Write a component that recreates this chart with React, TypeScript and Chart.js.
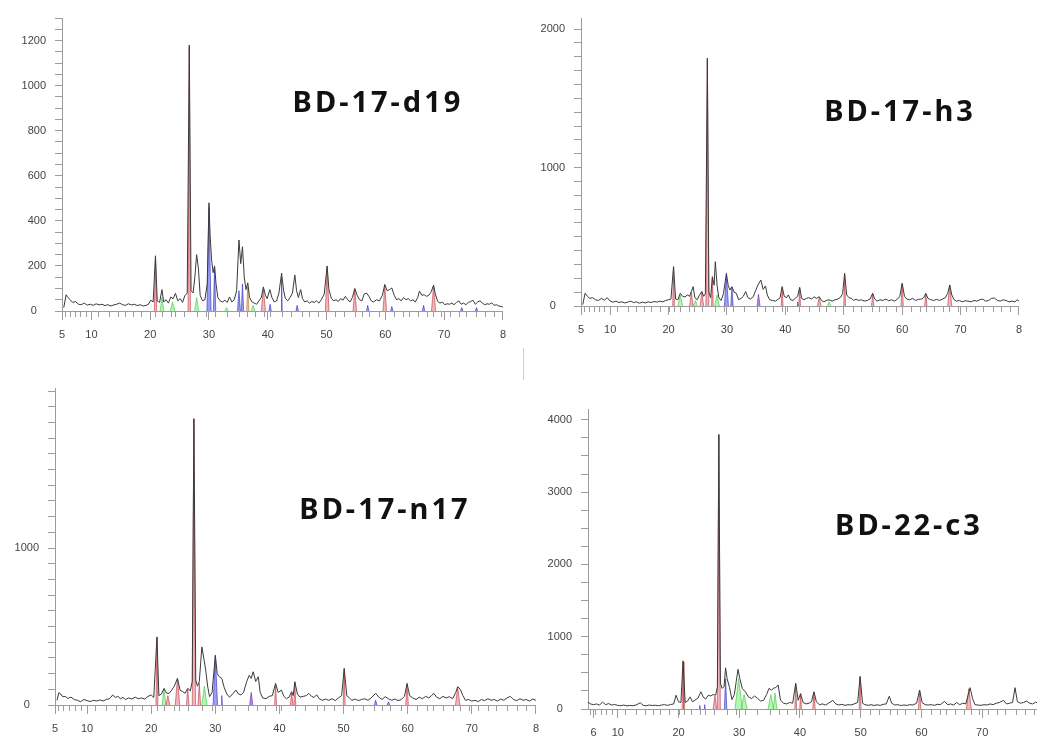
import React, { useEffect, useRef } from "react";
import { Chart, registerables } from "chart.js";

Chart.register(...registerables);

type Pt = [number, number];
type Peak = [number, number, number];

// ---------- BD-17-d19 ----------
const d19Trace: Pt[] = [
  [5.3,15],[5.7,72],[6.0,60],[6.4,50],[6.8,38],[7.3,42],[7.8,30],[8.3,28],[8.8,35],[9.3,26],[9.8,30],[10.3,25],[10.8,32],[11.3,27],[11.8,30],[12.3,24],[12.8,28],[13.3,22],[13.8,27],[14.3,30],[14.8,35],[15.3,28],[15.8,25],[16.3,32],[16.8,27],[17.3,30],[17.8,24],[18.3,28],[18.8,22],[19.3,25],[19.7,30],[20.1,48],[20.5,40],[20.9,245],[21.2,45],[21.6,38],[22.0,95],[22.3,40],[22.7,50],[23.1,35],[23.5,62],[23.9,55],[24.3,78],[24.7,45],[25.1,55],[25.5,38],[25.9,68],[26.3,80],[26.65,1180],[26.95,90],[27.3,80],[27.6,150],[27.9,250],[28.2,190],[28.5,70],[28.9,45],[29.3,50],[29.7,120],[30.0,480],[30.2,330],[30.45,225],[30.7,170],[30.95,200],[31.2,120],[31.5,60],[31.9,45],[32.3,40],[32.7,48],[33.1,38],[33.5,62],[33.9,40],[34.3,50],[34.7,90],[35.1,315],[35.4,210],[35.7,285],[36.0,150],[36.3,95],[36.6,125],[36.9,60],[37.3,40],[37.7,35],[38.1,30],[38.5,45],[38.9,60],[39.25,107],[39.6,70],[39.9,55],[40.35,95],[40.7,60],[41.1,40],[41.5,45],[41.9,80],[42.35,168],[42.7,90],[43.0,55],[43.4,45],[43.8,60],[44.2,80],[44.6,160],[44.9,90],[45.2,60],[45.6,95],[45.9,55],[46.3,40],[46.7,45],[47.1,35],[47.5,42],[47.9,38],[48.3,45],[48.7,35],[49.1,50],[49.6,75],[50.1,200],[50.4,95],[50.8,57],[51.2,45],[51.6,50],[52.0,42],[52.4,55],[52.8,48],[53.2,65],[53.6,50],[54.0,40],[54.4,60],[54.8,100],[55.2,70],[55.6,50],[56.0,45],[56.4,75],[56.8,80],[57.2,65],[57.6,45],[58.0,40],[58.5,50],[59.0,45],[59.5,70],[59.9,118],[60.3,90],[60.7,95],[61.1,102],[61.5,70],[61.9,50],[62.3,55],[62.7,45],[63.1,60],[63.5,50],[63.9,55],[64.3,45],[64.7,50],[65.1,40],[65.5,60],[65.8,88],[66.2,70],[66.6,72],[67.0,65],[67.4,70],[67.8,85],[68.2,115],[68.5,75],[68.9,42],[69.3,35],[69.7,40],[70.1,28],[70.5,32],[70.9,30],[71.3,35],[71.7,28],[72.1,38],[72.5,45],[72.9,30],[73.3,35],[73.7,28],[74.1,38],[74.5,42],[74.9,48],[75.3,30],[75.7,40],[76.1,45],[76.5,35],[76.9,28],[77.3,32],[77.7,30],[78.1,36],[78.5,25],[78.9,28],[79.3,22],[79.7,20],[80,18]
];
const d19Red: Peak[] = [[20.9,240,0.2],[26.65,1170,0.2],[39.25,100,0.35],[50.1,195,0.3],[54.8,95,0.3],[59.9,110,0.3],[68.2,110,0.35]];
const d19Blue: Peak[] = [[30.0,460,0.35],[30.95,190,0.2],[35.1,90,0.25],[35.7,120,0.2],[40.4,30,0.2],[42.35,150,0.1],[45.0,25,0.2],[57.0,25,0.2],[61.1,20,0.2],[66.5,25,0.2],[73,15,0.2],[75.5,15,0.2]];
const d19Green: Peak[] = [[22.0,60,0.3],[23.8,40,0.4],[27.9,60,0.35],[33,15,0.3],[37.5,25,0.3]];
const d19Orange: Peak[] = [[36.6,110,0.2]];

// ---------- BD-17-h3 ----------
const h3Trace: Pt[] = [
  [5.3,10],[5.7,92],[6.1,70],[6.5,55],[7.0,60],[7.5,45],[8.0,40],[8.5,55],[9.0,42],[9.5,60],[10.0,35],[10.5,28],[11.0,35],[11.5,25],[12.0,30],[12.5,22],[13.0,28],[13.5,35],[14.0,25],[14.5,30],[15.0,20],[15.5,28],[16.0,22],[16.5,30],[17.0,25],[17.5,32],[18.0,28],[18.5,35],[19.0,30],[19.5,40],[20.0,45],[20.4,50],[20.85,285],[21.2,50],[21.6,45],[22.0,92],[22.4,70],[22.8,65],[23.2,80],[23.6,70],[23.9,105],[24.2,140],[24.5,60],[24.9,45],[25.3,80],[25.7,105],[26.0,70],[26.3,90],[26.64,1790],[26.9,100],[27.2,60],[27.5,212],[27.8,150],[28.0,320],[28.3,150],[28.6,60],[29.0,40],[29.4,90],[29.9,236],[30.2,150],[30.5,115],[30.85,140],[31.2,100],[31.6,92],[32.0,45],[32.4,55],[32.8,70],[33.2,104],[33.6,60],[34.0,50],[34.5,67],[34.9,110],[35.3,152],[35.8,188],[36.2,120],[36.6,145],[36.9,80],[37.3,45],[37.8,40],[38.3,35],[38.8,50],[39.1,60],[39.45,140],[39.8,70],[40.2,60],[40.5,80],[40.9,45],[41.3,40],[41.8,60],[42.1,70],[42.45,135],[42.8,55],[43.2,45],[43.6,55],[44.0,60],[44.5,50],[44.9,67],[45.3,55],[45.8,67],[46.2,40],[46.6,30],[47.0,40],[47.5,45],[48.0,35],[48.5,45],[49.0,50],[49.5,65],[49.8,90],[50.15,236],[50.5,80],[50.9,60],[51.3,55],[51.7,40],[52.1,50],[52.5,40],[53.0,45],[53.5,35],[54.0,40],[54.5,50],[54.95,92],[55.3,50],[55.7,35],[56.2,45],[56.7,40],[57.2,50],[57.7,38],[58.2,45],[58.7,35],[59.2,50],[59.6,70],[60.0,164],[60.4,70],[60.8,50],[61.3,45],[61.8,55],[62.3,40],[62.8,48],[63.3,50],[63.7,60],[64.05,92],[64.4,55],[64.9,45],[65.4,40],[65.9,48],[66.4,40],[66.9,50],[67.4,60],[67.8,90],[68.15,152],[68.5,80],[68.9,45],[69.3,35],[69.8,40],[70.3,30],[70.8,38],[71.3,35],[71.8,30],[72.3,40],[72.8,35],[73.3,45],[73.8,50],[74.3,35],[74.8,40],[75.3,55],[75.8,58],[76.3,40],[76.8,35],[77.3,45],[77.8,40],[78.3,30],[78.8,35],[79.3,30],[79.7,45],[80,35]
];
const h3Red: Peak[] = [[20.85,280,0.15],[23.9,100,0.3],[25.7,100,0.3],[26.64,1780,0.25],[27.5,210,0.15],[39.45,135,0.15],[42.45,130,0.15],[45.8,60,0.3],[50.15,230,0.15],[54.95,85,0.2],[60.0,160,0.2],[64.05,85,0.2],[68.15,150,0.35]];
const h3Blue: Peak[] = [[29.9,220,0.35],[30.85,130,0.2],[42.1,30,0.1]];
const h3Green: Peak[] = [[22.0,80,0.4],[24.6,40,0.3],[28.3,80,0.4],[47.5,30,0.3]];
const h3Purple: Peak[] = [[35.4,85,0.25]];

// ---------- BD-17-n17 ----------
const n17Trace: Pt[] = [
  [5.3,30],[5.6,78],[5.9,70],[6.2,53],[6.6,55],[7.0,42],[7.5,50],[8.0,35],[8.5,30],[9.0,21],[9.5,35],[10.0,28],[10.5,22],[11.0,30],[11.5,25],[12.0,32],[12.5,26],[13.0,35],[13.5,40],[14.0,64],[14.4,48],[14.8,55],[15.2,40],[15.6,48],[16.0,35],[16.5,45],[17.0,38],[17.5,50],[18.0,40],[18.5,45],[19.0,38],[19.5,55],[20.0,64],[20.4,48],[20.9,434],[21.2,60],[21.6,70],[22.0,106],[22.4,75],[22.8,74],[23.2,95],[23.6,120],[24.1,170],[24.5,95],[24.9,85],[25.3,75],[25.7,106],[26.1,90],[26.4,150],[26.66,1825],[26.95,160],[27.2,120],[27.5,148],[27.9,370],[28.2,300],[28.5,222],[28.8,120],[29.1,53],[29.5,80],[30.0,318],[30.3,200],[30.6,180],[31.0,170],[31.4,110],[31.8,70],[32.2,50],[32.6,65],[33.2,95],[33.6,70],[34.0,64],[34.4,80],[34.9,150],[35.3,190],[35.6,170],[35.9,212],[36.3,150],[36.7,180],[37.0,80],[37.4,45],[37.9,40],[38.4,55],[38.9,60],[39.4,138],[39.8,80],[40.3,95],[40.7,55],[41.1,40],[41.5,50],[41.9,85],[42.15,60],[42.4,148],[42.8,70],[43.2,50],[43.7,55],[44.2,60],[44.6,74],[45.0,55],[45.4,48],[45.8,65],[46.2,40],[46.7,30],[47.2,38],[47.7,30],[48.2,40],[48.7,28],[49.2,45],[49.7,60],[50.1,233],[50.5,60],[50.9,45],[51.3,30],[51.8,38],[52.3,28],[52.8,35],[53.3,40],[53.8,30],[54.3,45],[55.0,74],[55.5,50],[56.0,35],[56.5,53],[57.0,40],[57.5,30],[58.0,38],[58.5,28],[59.0,35],[59.5,55],[59.9,138],[60.3,60],[60.8,45],[61.3,35],[61.8,50],[62.3,40],[62.8,55],[63.3,45],[63.7,60],[64.1,74],[64.5,50],[65.0,40],[65.5,55],[66.0,45],[66.5,53],[67.0,40],[67.5,80],[67.8,117],[68.2,100],[68.6,60],[69.0,30],[69.5,35],[70.0,25],[70.5,30],[71.0,22],[71.5,35],[72.0,28],[72.5,40],[73.0,30],[73.5,35],[74.0,25],[74.5,38],[75.0,30],[75.5,45],[76.0,55],[76.5,35],[77.0,28],[77.5,40],[78.0,30],[78.5,35],[79.0,25],[79.5,38],[80,30]
];
const n17Red: Peak[] = [[20.9,430,0.15],[22.6,60,0.3],[24.1,165,0.35],[25.7,100,0.2],[26.66,1820,0.25],[27.5,140,0.2],[39.4,130,0.15],[41.9,80,0.2],[42.4,145,0.15],[50.1,230,0.15],[59.9,130,0.2],[67.8,110,0.35]];
const n17Blue: Peak[] = [[30.0,310,0.35],[31.0,60,0.1],[55,30,0.2],[57,20,0.2]];
const n17Green: Peak[] = [[22.0,100,0.3],[28.3,120,0.4]];
const n17Purple: Peak[] = [[35.6,80,0.25]];

// ---------- BD-22-c3 ----------
const c3Trace: Pt[] = [
  [5.1,95],[5.5,71],[6.0,60],[6.5,70],[7.0,55],[7.5,95],[8.0,60],[8.5,75],[9.0,55],[9.5,62],[10.0,50],[10.5,45],[11.0,55],[11.5,42],[12.0,50],[12.5,45],[13.0,55],[13.7,86],[14.2,50],[14.7,45],[15.2,55],[15.7,48],[16.2,52],[16.7,45],[17.2,55],[17.7,60],[18.2,50],[18.7,62],[19.2,70],[19.6,190],[20.0,100],[20.4,90],[20.75,667],[21.1,90],[21.5,110],[21.9,167],[22.3,100],[22.7,120],[23.2,150],[23.7,238],[24.1,160],[24.5,140],[24.9,190],[25.3,180],[25.7,200],[26.1,190],[26.4,300],[26.64,3800],[26.9,350],[27.2,285],[27.5,310],[27.75,570],[28.0,420],[28.4,300],[28.8,130],[29.2,200],[29.5,380],[29.8,548],[30.1,420],[30.5,285],[31.0,238],[31.5,170],[32.0,143],[32.5,180],[33.0,150],[33.5,110],[34.0,120],[34.5,200],[34.9,285],[35.3,262],[35.7,290],[36.0,295],[36.4,333],[36.8,120],[37.3,80],[37.8,70],[38.3,90],[38.8,80],[39.3,357],[39.7,120],[40.1,214],[40.5,90],[41.0,70],[41.5,80],[41.9,100],[42.3,238],[42.7,100],[43.2,60],[43.7,70],[44.2,55],[44.7,80],[45.4,120],[45.9,70],[46.4,55],[46.9,65],[47.4,50],[47.9,60],[48.4,55],[48.9,70],[49.5,90],[49.9,452],[50.3,80],[50.7,60],[51.2,50],[51.7,60],[52.2,48],[52.7,58],[53.2,50],[53.7,65],[54.2,70],[54.7,176],[55.1,80],[55.6,55],[56.1,60],[56.6,48],[57.1,55],[57.6,50],[58.1,60],[58.6,55],[59.2,80],[59.7,262],[60.1,90],[60.6,60],[61.1,55],[61.6,60],[62.1,50],[62.6,65],[63.1,60],[63.8,105],[64.3,60],[64.8,70],[65.3,55],[65.8,90],[66.3,60],[66.8,80],[67.3,70],[67.7,200],[68.0,295],[68.4,150],[68.8,60],[69.3,55],[69.8,50],[70.3,60],[70.8,55],[71.3,70],[71.8,60],[72.3,80],[72.8,90],[73.5,119],[74.0,70],[74.5,80],[75.0,90],[75.4,295],[75.8,100],[76.3,80],[76.8,90],[77.3,110],[77.8,80],[78.3,70],[78.8,95],[79.3,75],[80,90]
];
const c3Red: Peak[] = [[20.75,650,0.15],[26.0,180,0.3],[26.64,3780,0.25],[39.3,340,0.15],[40.1,200,0.15],[42.3,230,0.2],[49.9,440,0.15],[59.7,250,0.2],[67.8,280,0.4]];
const c3Blue: Peak[] = [[23.5,50,0.1],[24.3,60,0.1],[27.75,420,0.2]];
const c3Green: Peak[] = [[29.9,420,0.6],[30.8,200,0.5],[35.2,200,0.45],[35.9,220,0.3]];

// ---------- axes ----------
const xTickValues = [5, 10, 20, 30, 40, 50, 60, 70, 80];
const xTickValuesC3 = [6, 10, 20, 30, 40, 50, 60, 70, 80];
const stickPositions = [5.5,6.3,7.2,8.1,9,11.2,13,14.5,15.8,17,18.5,20,20.9,22,23.5,24.3,25.8,28,29.5,31,33,35.1,36.5,37.8,39.4,40.3,42.4,44,45.8,47,48.5,51.5,53,54.8,56,57.3,59,61.5,63,64,65.5,67,68.1,69.5,71,72.5,73.8,75.5,77,78.5];

const COLORS = {
  red: ["rgba(228,110,125,0.5)", "rgba(190,60,70,0.8)"],
  blue: ["rgba(80,80,230,0.55)", "rgba(50,50,200,0.8)"],
  green: ["rgba(110,235,110,0.5)", "rgba(70,200,70,0.8)"],
  orange: ["rgba(215,150,70,0.55)", "rgba(190,120,40,0.8)"],
  purple: ["rgba(140,70,210,0.6)", "rgba(110,40,180,0.8)"],
};

type Group = { color: keyof typeof COLORS; peaks: Peak[] };
type Panel = {
  title: string;
  trace: Pt[];
  groups: Group[];
  xMin: number; xMax: number; xTicks: number[];
  yMax: number; yStep: number; yLabelStep: number; yLabelMax: number;
  plot: { left: number; top: number; right: number; bottom: number };
  titlePos: { x: number; y: number };
};

const panels: Panel[] = [
  {
    title: "BD-17-d19", trace: d19Trace,
    groups: [{ color: "red", peaks: d19Red }, { color: "blue", peaks: d19Blue }, { color: "green", peaks: d19Green }, { color: "orange", peaks: d19Orange }],
    xMin: 5, xMax: 80, xTicks: xTickValues, yMax: 1300, yStep: 50, yLabelStep: 200, yLabelMax: 1200,
    plot: { left: 62, top: 18, right: 504, bottom: 311 }, titlePos: { x: 378, y: 100 },
  },
  {
    title: "BD-17-h3", trace: h3Trace,
    groups: [{ color: "red", peaks: h3Red }, { color: "blue", peaks: h3Blue }, { color: "green", peaks: h3Green }, { color: "purple", peaks: h3Purple }],
    xMin: 5, xMax: 80, xTicks: xTickValues, yMax: 2080, yStep: 100, yLabelStep: 1000, yLabelMax: 2000,
    plot: { left: 581, top: 18, right: 1020, bottom: 306 }, titlePos: { x: 900, y: 109 },
  },
  {
    title: "BD-17-n17", trace: n17Trace,
    groups: [{ color: "red", peaks: n17Red }, { color: "blue", peaks: n17Blue }, { color: "green", peaks: n17Green }, { color: "purple", peaks: n17Purple }],
    xMin: 5, xMax: 80, xTicks: xTickValues, yMax: 2020, yStep: 100, yLabelStep: 1000, yLabelMax: 1000,
    plot: { left: 55, top: 388, right: 537, bottom: 705 }, titlePos: { x: 385, y: 507 },
  },
  {
    title: "BD-22-c3", trace: c3Trace,
    groups: [{ color: "red", peaks: c3Red }, { color: "blue", peaks: c3Blue }, { color: "green", peaks: c3Green }],
    xMin: 5.1, xMax: 80, xTicks: xTickValuesC3, yMax: 4150, yStep: 250, yLabelStep: 1000, yLabelMax: 4000,
    plot: { left: 588, top: 409, right: 1044, bottom: 709 }, titlePos: { x: 909, y: 523 },
  },
];

const AXIS_W = 50;
const AXIS_H = 36;
const PAD_T = 4;
const PAD_R = 10;
const AXIS_COLOR = "#9c9c9c";
const LABEL_COLOR = "#444";

const sticksPlugin = {
  id: "sticks",
  afterDraw(chart: any, _args: any, opts: any) {
    const xs = chart.scales.x;
    const y0 = chart.scales.y.getPixelForValue(0);
    const ctx = chart.ctx;
    ctx.save();
    ctx.strokeStyle = opts.color || AXIS_COLOR;
    ctx.lineWidth = 1;
    for (const v of opts.positions || []) {
      if (v < xs.min || v > xs.max) continue;
      const px = Math.round(xs.getPixelForValue(v)) + 0.5;
      ctx.beginPath();
      ctx.moveTo(px, y0);
      ctx.lineTo(px, y0 + (opts.length || 6));
      ctx.stroke();
    }
    ctx.restore();
  },
};

function PanelChart({ spec }: { spec: Panel }) {
  const ref = useRef<HTMLCanvasElement | null>(null);
  const width = AXIS_W + (spec.plot.right - spec.plot.left) + PAD_R;
  const height = PAD_T + (spec.plot.bottom - spec.plot.top) + AXIS_H;
  const left = spec.plot.left - AXIS_W;
  const top = spec.plot.top - PAD_T;

  useEffect(() => {
    if (!ref.current) return;
    const fills = spec.groups.flatMap((g) =>
      g.peaks.map(([x, h, w]) => ({
        type: "line" as const,
        data: [{ x: x - w, y: 0 }, { x, y: h }, { x: x + w, y: 0 }],
        borderColor: COLORS[g.color][1],
        borderWidth: 0.8,
        backgroundColor: COLORS[g.color][0],
        fill: "origin",
        pointRadius: 0,
        tension: 0,
        order: 2,
      }))
    );
    const chart = new Chart(ref.current, {
      type: "line",
      data: {
        datasets: [
          {
            data: spec.trace.map(([x, y]) => ({ x, y })),
            borderColor: "#3a3a3a",
            borderWidth: 1,
            pointRadius: 0,
            fill: false,
            tension: 0,
            order: 0,
          } as any,
          ...(fills as any[]),
        ],
      },
      options: {
        responsive: false,
        animation: false,
        devicePixelRatio: 1,
        layout: { padding: { top: PAD_T, right: PAD_R, left: 0, bottom: 0 } },
        plugins: {
          legend: { display: false },
          tooltip: { enabled: false },
          sticks: { positions: stickPositions, length: 6, color: AXIS_COLOR },
        } as any,
        scales: {
          x: {
            type: "linear",
            min: spec.xMin,
            max: spec.xMax,
            afterBuildTicks: (s: any) => {
              s.ticks = spec.xTicks.map((v) => ({ value: v }));
            },
            afterFit: (s: any) => {
              s.height = AXIS_H;
            },
            ticks: {
              autoSkip: false,
              maxRotation: 0,
              padding: 8,
              color: LABEL_COLOR,
              font: { family: "'Liberation Sans', Arial, sans-serif", size: 11 },
              callback: (v: any) => (Number(v) === 80 ? "8" : String(v)),
            },
            grid: { drawOnChartArea: false, tickLength: 9, color: AXIS_COLOR },
            border: { color: AXIS_COLOR },
          },
          y: {
            type: "linear",
            min: 0,
            max: spec.yMax,
            afterBuildTicks: (s: any) => {
              const t: { value: number }[] = [];
              for (let v = 0; v <= spec.yMax + 1e-6; v += spec.yStep) t.push({ value: v });
              s.ticks = t;
            },
            afterFit: (s: any) => {
              s.width = AXIS_W;
              s.paddingTop = 0;
              s.paddingBottom = 0;
            },
            ticks: {
              autoSkip: false,
              padding: 9,
              color: LABEL_COLOR,
              font: { family: "'Liberation Sans', Arial, sans-serif", size: 11 },
              callback: (v: any) => {
                const n = Number(v);
                if (n === 0) return "0   ";
                return n % spec.yLabelStep === 0 && n <= spec.yLabelMax ? String(n) : "";
              },
            },
            grid: { drawOnChartArea: false, tickLength: 7, color: AXIS_COLOR },
            border: { color: AXIS_COLOR },
          },
        },
      } as any,
      plugins: [sticksPlugin as any],
    });
    return () => chart.destroy();
  }, [spec]);

  return (
    <>
      <canvas
        ref={ref}
        width={width}
        height={height}
        style={{ position: "absolute", left, top, width, height }}
      />
      <div
        style={{
          position: "absolute",
          left: spec.titlePos.x,
          top: spec.titlePos.y,
          transform: "translate(-50%, -50%)",
          fontFamily: "'Noto Sans', 'Noto Sans CJK SC', sans-serif",
          fontWeight: 700,
          fontSize: 29,
          letterSpacing: 3,
          color: "#111",
          whiteSpace: "nowrap",
          lineHeight: 1,
        }}
      >
        {spec.title}
      </div>
    </>
  );
}

export default function App() {
  return (
    <div
      style={{
        position: "fixed",
        left: 0,
        top: 0,
        width: 1037,
        height: 738,
        overflow: "hidden",
        background: "#fff",
      }}
    >
      {panels.map((p) => (
        <PanelChart key={p.title} spec={p} />
      ))}
      <div style={{ position: "absolute", left: 523, top: 348, width: 1, height: 32, background: "#cfcfcf" }} />
    </div>
  );
}
